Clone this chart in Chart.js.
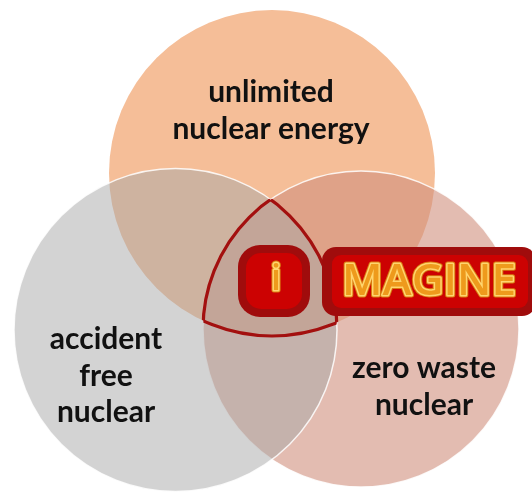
<!DOCTYPE html>
<html>
<head>
<meta charset="utf-8">
<title>iMAGINE nuclear</title>
<script src="https://cdn.jsdelivr.net/npm/chart.js@4.4.1/dist/chart.umd.min.js"></script>
<style>
  html, body { margin: 0; padding: 0; background: #fff; }
  #venn { display: block; }
</style>
</head>
<body>
<canvas id="venn" width="532" height="492"></canvas>
<script>
// ========== DATA ==========
const circleNames = ['unlimited nuclear energy', 'zero waste nuclear', 'accident free nuclear'];
const circleX = [272, 361, 175.5];
const circleY = [173, 329, 330];
const circleR = [163, 158, 161.5];

const labelLines = [
  ['unlimited', 'nuclear energy'],
  ['zero waste', 'nuclear'],
  ['accident', 'free', 'nuclear']
];
const logoParts = ['i', 'MAGINE'];

// ========== STYLE / LAYOUT ==========
const circleFill = ['rgb(245,190,152)', 'rgba(208,143,125,0.6)', 'rgba(167,167,167,0.5)'];
const circleOrder = [3, 2, 1]; // top first, left last
const labelAnchor = [[271, 102], [424, 378], [106, 349]];
const lineGap = 36.5;
const darkRed = '#a00c0c';
const brightRed = '#cc0202';

const datasets = circleNames.map((name, i) => ({
  label: name,
  data: [{ x: circleX[i], y: circleY[i], r: circleR[i] }],
  backgroundColor: circleFill[i],
  borderColor: i === 0 ? 'rgba(0,0,0,0)' : 'rgba(255,255,255,0.85)',
  borderWidth: i === 0 ? 0 : 1.5,
  order: circleOrder[i]
}));

function glowText(ctx, txt, x, y) {
  ctx.lineJoin = 'round';
  ctx.strokeStyle = '#d97a10';
  ctx.lineWidth = 5;
  ctx.strokeText(txt, x, y);
  ctx.strokeStyle = '#ffd56e';
  ctx.lineWidth = 3;
  ctx.strokeText(txt, x, y);
  ctx.fillStyle = '#ee9a1c';
  ctx.fillText(txt, x, y);
}

const decor = {
  id: 'decor',
  afterDatasetsDraw(chart) {
    const { ctx, scales: { x, y } } = chart;
    const px = v => x.getPixelForValue(v);
    const py = v => y.getPixelForValue(v);
    const pr = r => x.getPixelForValue(r) - x.getPixelForValue(0);
    const circ = i => {
      ctx.beginPath();
      ctx.arc(px(circleX[i]), py(circleY[i]), pr(circleR[i]), 0, Math.PI * 2);
    };

    // outline of the triple overlap
    for (let i = 0; i < 3; i++) {
      ctx.save();
      for (let j = 0; j < 3; j++) {
        if (j === i) continue;
        circ(j);
        ctx.clip();
      }
      circ(i);
      ctx.lineWidth = 3.2;
      ctx.strokeStyle = '#a3100f';
      ctx.stroke();
      ctx.restore();
    }

    // circle labels
    ctx.save();
    ctx.fillStyle = '#111';
    ctx.font = 'bold 30px Lato, "Open Sans", sans-serif';
    ctx.textAlign = 'center';
    ctx.textBaseline = 'alphabetic';
    labelLines.forEach((lines, i) => {
      lines.forEach((t, k) => {
        ctx.fillText(t, px(labelAnchor[i][0]), py(labelAnchor[i][1]) + k * lineGap);
      });
    });
    ctx.restore();

    // "i" badge
    ctx.save();
    ctx.fillStyle = darkRed;
    ctx.beginPath();
    ctx.roundRect(238, 245, 72, 72, 22);
    ctx.fill();
    ctx.fillStyle = brightRed;
    ctx.beginPath();
    ctx.roundRect(246, 253, 56, 56, 15);
    ctx.fill();

    // MAGINE banner
    ctx.fillStyle = darkRed;
    ctx.beginPath();
    ctx.roundRect(322, 247, 214, 69, 14);
    ctx.fill();
    ctx.fillStyle = brightRed;
    ctx.beginPath();
    ctx.roundRect(332, 255, 196, 53, 9);
    ctx.fill();

    ctx.textAlign = 'center';
    ctx.textBaseline = 'alphabetic';
    ctx.font = '600 36px "Open Sans", sans-serif';
    glowText(ctx, logoParts[0], 276, 290);
    ctx.font = '600 44px "Open Sans", sans-serif';
    glowText(ctx, logoParts[1], 429, 295);
    ctx.restore();
  }
};

new Chart(document.getElementById('venn'), {
  type: 'bubble',
  data: { datasets },
  options: {
    responsive: false,
    devicePixelRatio: 1,
    animation: false,
    events: [],
    layout: { padding: 0, autoPadding: false },
    scales: {
      x: { type: 'linear', min: 0, max: 532, display: false },
      y: { type: 'linear', min: 0, max: 492, reverse: true, display: false }
    },
    plugins: {
      legend: { display: false },
      tooltip: { enabled: false }
    }
  },
  plugins: [decor]
});
</script>
</body>
</html>
